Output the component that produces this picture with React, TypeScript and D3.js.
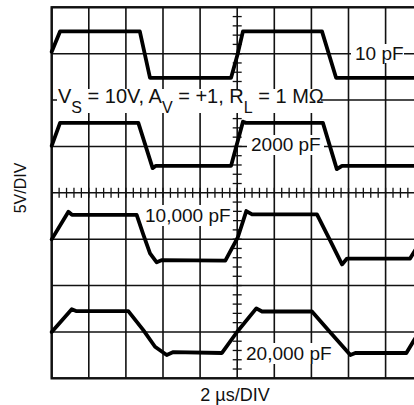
import React from "react";
import * as d3 from "d3";

// time in µs (2 µs/DIV), voltage in V (5 V/DIV), screen 10 x 8 divisions
const T_DIVS = 10;
const V_DIVS = 8;
const T_PER_DIV = 2;
const V_PER_DIV = 5;

const trace10pF_t = [0, 0.45, 4.75, 5.3, 9.67, 10.03, 10.31, 14.57, 15.33, 20];
const trace10pF_v = [35.2, 37.4, 37.4, 32.4, 32.4, 35.0, 37.4, 37.4, 32.4, 32.4];

const trace2000pF_t = [0, 0.45, 4.67, 5.44, 5.62, 9.67, 10.31, 10.47, 14.62, 15.37, 15.65, 20];
const trace2000pF_v = [25.06, 27.54, 27.54, 22.66, 22.91, 22.91, 27.67, 27.54, 27.54, 22.55, 22.91, 22.91];

const trace10000pF_t = [0, 0.9, 1.09, 4.58, 4.94, 5.3, 5.66, 5.95, 9.36, 10.04, 10.49, 10.8, 14.3, 15.0, 15.65, 15.92, 19.32, 20.02];
const trace10000pF_v = [14.98, 17.95, 17.63, 17.63, 15.5, 13.47, 12.5, 12.75, 12.69, 15.23, 18.03, 17.67, 17.67, 14.9, 12.28, 12.91, 12.91, 15.23];

const trace20000pF_t = [0, 1.08, 1.31, 4.13, 4.94, 5.57, 6.2, 6.56, 9.18, 9.99, 11.03, 11.34, 14.03, 15.0, 16.1, 16.37, 19.12, 19.54, 20.02];
const trace20000pF_v = [4.99, 7.44, 7.25, 7.25, 5.2, 3.4, 2.51, 2.83, 2.73, 4.99, 7.54, 7.2, 7.2, 4.99, 2.51, 2.73, 2.73, 4.13, 5.64];

const traces = [
  { t: trace10pF_t, v: trace10pF_v },
  { t: trace2000pF_t, v: trace2000pF_v },
  { t: trace10000pF_t, v: trace10000pF_v },
  { t: trace20000pF_t, v: trace20000pF_v },
];

const FONT = "'Liberation Sans', Arial, Helvetica, sans-serif";

export default function App() {
  const W = 414;
  const H = 405;
  const x = d3.scaleLinear().domain([0, T_DIVS * T_PER_DIV]).range([51.7, 422.7]);
  const y = d3.scaleLinear().domain([0, V_DIVS * V_PER_DIV]).range([378.3, 7.3]);

  const line = d3
    .line<[number, number]>()
    .x((d) => x(d[0]))
    .y((d) => y(d[1]))
    .curve(d3.curveLinear);

  const majorT = d3.range(0, T_DIVS + 1).map((i) => i * T_PER_DIV);
  const majorV = d3.range(0, V_DIVS + 1).map((i) => i * V_PER_DIV);
  const minorT = d3.range(0, T_DIVS * 5 + 1).map((i) => (i * T_PER_DIV) / 5);
  const minorV = d3.range(0, V_DIVS * 5 + 1).map((i) => (i * V_PER_DIV) / 5);
  const midT = (T_DIVS / 2) * T_PER_DIV;
  const midV = (V_DIVS / 2) * V_PER_DIV;

  const labels = [
    { text: "10 pF", x: 355, y: 59.8, bg: [351, 44, 53, 19] },
    { text: "2000 pF", x: 251, y: 150.7, bg: [247, 135, 77, 20] },
    { text: "10,000 pF", x: 145, y: 221.8, bg: [142, 205, 91, 21] },
    { text: "20,000 pF", x: 246, y: 359.8, bg: [243, 343, 93, 21] },
  ];

  return (
    <svg
      width={W}
      height={H}
      style={{ position: "absolute", left: 0, top: 0, background: "#fff" }}
      fontFamily={FONT}
    >
      <rect x={0} y={0} width={W} height={H} fill="#fff" />
      {/* grid */}
      <g stroke="#111" strokeWidth={1.6}>
        {majorT.map((t) => (
          <line key={"vt" + t} x1={x(t)} x2={x(t)} y1={y(0)} y2={y(40)} />
        ))}
        {majorV.map((v) => (
          <line key={"hv" + v} x1={x(0)} x2={x(20)} y1={y(v)} y2={y(v)} />
        ))}
      </g>
      <g stroke="#111" strokeWidth={1.3}>
        {minorT.map((t) => (
          <line key={"mt" + t} x1={x(t)} x2={x(t)} y1={y(midV) - 5} y2={y(midV) + 5} />
        ))}
        {minorV.map((v) => (
          <line key={"mv" + v} x1={x(midT) - 4.5} x2={x(midT) + 4.5} y1={y(v)} y2={y(v)} />
        ))}
      </g>
      {/* border */}
      <rect
        x={x(0)}
        y={y(40)}
        width={x(20) - x(0)}
        height={y(0) - y(40)}
        fill="none"
        stroke="#111"
        strokeWidth={2.4}
      />
      {/* labels with white backgrounds */}
      <rect x={57} y={89} width={264} height={24} fill="#fff" />
      <text x={58} y={102.5} fontSize={20} fill="#111">
        V<tspan fontSize={16} dy={10}>S</tspan>
        <tspan dy={-10}> = 10V, A</tspan>
        <tspan fontSize={16} dy={10}>V</tspan>
        <tspan dy={-10}> = +1, R</tspan>
        <tspan fontSize={16} dy={10}>L</tspan>
        <tspan dy={-10}> = 1 MΩ</tspan>
      </text>
      {labels.map((l) => (
        <g key={l.text}>
          <rect x={l.bg[0]} y={l.bg[1]} width={l.bg[2]} height={l.bg[3]} fill="#fff" />
          <text x={l.x} y={l.y} fontSize={19} fill="#111">
            {l.text}
          </text>
        </g>
      ))}
      {/* traces */}
      <g fill="none" stroke="#000" strokeWidth={3.8} strokeLinejoin="round" strokeLinecap="round">
        {traces.map((tr, i) => (
          <path key={i} d={line(tr.t.map((t, j) => [t, tr.v[j]] as [number, number])) || ""} />
        ))}
      </g>
      {/* axis titles */}
      <text x={235} y={401} fontSize={18} textAnchor="middle" fill="#111">
        2 µs/DIV
      </text>
      <text
        transform="translate(26,188) rotate(-90)"
        fontSize={16}
        textAnchor="middle"
        fill="#111"
      >
        5V/DIV
      </text>
    </svg>
  );
}
